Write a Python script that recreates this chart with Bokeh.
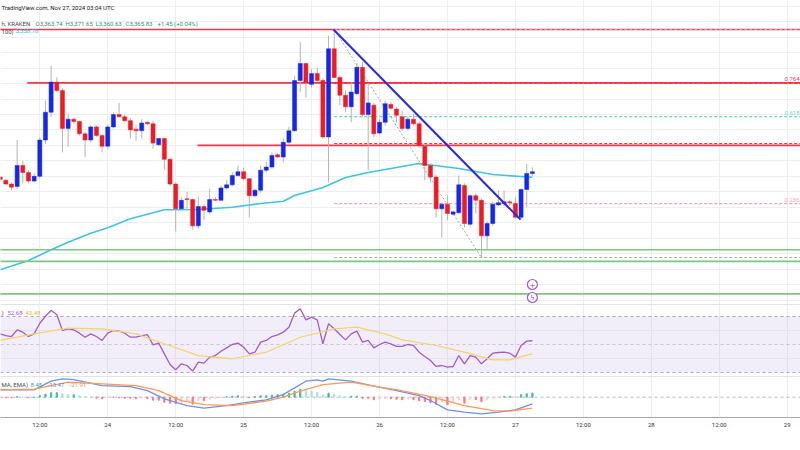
import pandas as pd
from bokeh.plotting import figure
from bokeh.models import (Range1d, ColumnDataSource, FixedTicker, SingleIntervalTicker,
                          Span, BoxAnnotation, Label, Grid)
from bokeh.embed import file_html
from bokeh.resources import INLINE

# ---------------- data (ETH/USD 1h, Kraken) ----------------
first_bar = "2024-11-23 05:00"
day0 = "2024-11-23 00:00"

open_ = [3359, 3355, 3350, 3347, 3374, 3365, 3354, 3360, 3407, 3443,
         3482, 3471, 3422, 3434, 3431, 3415, 3407, 3424, 3413, 3399,
         3424, 3440, 3437, 3432, 3421, 3419, 3430, 3428, 3401, 3409,
         3382, 3350, 3318, 3331, 3330, 3296, 3321, 3314, 3330, 3329,
         3345, 3349, 3361, 3366, 3357, 3335, 3342, 3368, 3372, 3388,
         3385, 3404, 3419, 3484, 3506, 3479, 3493, 3484, 3411, 3525,
         3488, 3465, 3450, 3467, 3501, 3440, 3452, 3416, 3430, 3453,
         3447, 3437, 3422, 3434, 3428, 3399, 3374, 3359, 3318, 3324,
         3311, 3313, 3348, 3298, 3335, 3329, 3283, 3299, 3323, 3325,
         3327, 3325, 3307, 3343, 3363.74]
high = [3361, 3356, 3352, 3407, 3380, 3368, 3364, 3410, 3458, 3503,
        3488, 3474, 3441, 3436, 3432, 3417, 3426, 3426, 3414, 3427,
        3443, 3455, 3440, 3435, 3426, 3434, 3431, 3432, 3410, 3410,
        3384, 3352, 3333, 3340, 3331, 3334, 3324, 3344, 3333, 3348,
        3355, 3365, 3374, 3371, 3358, 3344, 3374, 3379, 3391, 3390,
        3409, 3424, 3490, 3534, 3507, 3499, 3501, 3487, 3542, 3550,
        3490, 3471, 3482, 3506, 3508, 3480, 3455, 3434, 3458, 3456,
        3450, 3445, 3437, 3441, 3431, 3402, 3377, 3362, 3326, 3335,
        3316, 3361, 3351, 3337, 3338, 3331, 3302, 3327, 3342, 3342,
        3329, 3333, 3344, 3376, 3371.65]
low = [3353, 3349, 3342, 3344, 3351, 3351, 3352, 3357, 3402, 3437,
       3469, 3391, 3398, 3428, 3413, 3385, 3404, 3411, 3391, 3396,
       3422, 3436, 3430, 3409, 3406, 3409, 3426, 3396, 3399, 3368,
       3347, 3289, 3316, 3316, 3291, 3292, 3303, 3311, 3328, 3328,
       3343, 3347, 3360, 3355, 3307, 3333, 3339, 3365, 3370, 3384,
       3378, 3402, 3418, 3469, 3462, 3475, 3482, 3409, 3352, 3487,
       3452, 3443, 3430, 3465, 3437, 3368, 3411, 3414, 3426, 3446,
       3430, 3419, 3419, 3426, 3397, 3355, 3352, 3307, 3281, 3303,
       3309, 3311, 3294, 3295, 3312, 3255, 3266, 3296, 3322, 3321,
       3322, 3305, 3305, 3320, 3360.63]
close = [3356, 3350, 3346, 3374, 3365, 3354, 3360, 3407, 3443, 3482,
         3471, 3422, 3434, 3431, 3415, 3407, 3424, 3413, 3399, 3424,
         3440, 3437, 3432, 3420, 3419, 3429, 3428, 3403, 3409, 3382,
         3350, 3318, 3329, 3330, 3296, 3321, 3316, 3330, 3329, 3345,
         3349, 3361, 3366, 3357, 3335, 3342, 3368, 3372, 3387, 3385,
         3404, 3419, 3484, 3506, 3481, 3493, 3484, 3411, 3525, 3488,
         3465, 3450, 3469, 3501, 3440, 3455, 3415, 3430, 3454, 3448,
         3439, 3422, 3434, 3428, 3400, 3374, 3359, 3318, 3324, 3312,
         3314, 3349, 3299, 3335, 3329, 3283, 3299, 3324, 3326, 3327,
         3326, 3307, 3343, 3363.74, 3365.83]

# 100 MA read at sample hours (hours after Nov 23 00:00)
ma100_hours = [5, 10, 14, 17, 21, 24, 28, 34, 40, 46, 51, 55, 57, 62, 66, 70, 75, 79, 86, 92, 97, 99]
ma100 = [3239.1, 3251.1, 3265.0, 3274.8, 3286.4, 3293.4, 3305.1, 3316.7, 3317.1, 3320.1, 3324.9,
         3327.8, 3335.2, 3345.6, 3358.5, 3365.0, 3371.4, 3376.6, 3370.2, 3362.4, 3359.8, 3358.78]

rsi = [57.6, 56.4, 55.7, 60.5, 58.8, 55.7, 57.6, 65.2, 70.2, 74.3,
       71.4, 60.0, 61.2, 60.5, 58.1, 55.2, 57.6, 55.7, 52.9, 58.1,
       60.0, 59.5, 58.1, 55.2, 55.2, 56.4, 57.1, 49.8, 51.0, 43.3,
       35.7, 31.9, 36.2, 35.0, 31.0, 37.4, 36.7, 41.0, 42.1, 45.2,
       47.6, 50.0, 51.0, 48.1, 43.3, 44.5, 51.7, 52.9, 55.7, 56.9,
       58.8, 62.4, 72.4, 75.5, 67.6, 69.5, 67.6, 50.5, 64.8, 61.2,
       57.1, 53.3, 57.6, 59.5, 51.7, 52.9, 47.6, 50.0, 51.7, 50.5,
       48.6, 48.6, 50.0, 49.3, 44.5, 41.4, 38.6, 34.3, 35.0, 33.8,
       34.3, 42.1, 36.2, 42.1, 41.0, 36.2, 39.8, 43.8, 44.3, 44.5,
       43.8, 41.0, 49.3, 52.4, 52.68]
rsi_ma_hours = [5, 11, 17, 23, 29, 34, 40, 46, 52, 58, 64, 68, 73, 76, 82, 87, 92, 95, 99]
rsi_ma = [52.9, 57.6, 61.7, 61.2, 57.6, 50.5, 42.1, 39.8, 44.5, 55.2, 61.2, 62.4, 57.6, 53.3,
          49.3, 44.5, 39.0, 39.0, 43.48]

macd_hours = [5, 11, 14, 16, 18, 23, 28, 31, 34, 38, 41, 45, 48, 52, 55, 57, 59, 61, 62, 63,
              67, 70, 75, 79, 81, 84, 87, 90, 93, 96, 99]
macd = [14.7, 14.7, 32.0, 36.7, 35.3, 23.3, 21.3, 13.3, -3.3, -16.7, -22.0, -16.7, -11.3, -5.3,
        5.3, 18.7, 32.0, 34.7, 32.0, 36.7, 32.0, 24.7, 13.3, 3.3, -6.7, -25.3, -30.0, -33.3,
        -30.0, -25.3, -13.47]
signal_hours = [5, 11, 17, 23, 29, 33, 37, 41, 46, 52, 55, 58, 62, 67, 72, 75, 81, 87, 92, 95, 99]
signal = [14.7, 16.0, 30.0, 26.7, 23.3, 13.3, -6.7, -14.7, -16.7, -8.0, 0.0, 12.0, 25.3, 30.0,
          20.0, 15.3, 1.3, -16.7, -26.7, -28.0, -21.91]
hist = [0, -1, -1, 1, 0, -1, 0, 3, 6, 9,
        9, 7, 5, 5, 3, 1, 0, -2, -3, -1,
        0, -1, -2, -2, -3, -2, -3, -6, -6, -10,
        -12, -13, -10, -9, -14, -7, -7, -4, -3, -1,
        1, 2, 3, 2, -1, 1, 3, 3, 4, 5,
        6, 8, 12, 16, 14, 12, 10, 5, 8, 6,
        3, 1, 2, 2, -2, -2, -5, -4, -3, -3,
        -4, -5, -4, -5, -7, -9, -11, -14, -10, -15,
        -9, -5, -12, -5, -5, -9, -5, -3, -1, 1,
        2, 1, 5, 7, 8.45]

tick_hours = [12, 24, 36, 48, 60, 72, 84, 96, 108, 120, 132, 144]
tick_labels = ["12:00", "24", "12:00", "25", "12:00", "26", "12:00", "27", "12:00", "28", "12:00", "29"]

resistance = [3550, 3481, 3400]
resistance_from_hour = [0, 9.8, 39.85]
support = [3265, 3250, 3208]
fib_high, fib_low = 3550, 3255
fib_from_hour, fib_to_hour = 64, 90
fib_ratios = [0, 0.236, 0.5, 0.618, 0.764, 1]
fib_names = ["0", "0.236", "0.5", "0.618", "0.764", "1"]
trend_hours = [63.87, 96.9]
trend_prices = [3550, 3304]

# ---------------- layout helpers (reference pixel geometry) ----------------
W, H = 800, 450
AXIS_Y = 417        # y of the time axis line
PX_H = 5.662        # px per hour
X12 = 39.3          # x of Nov 23 12:00
def hx(rx):
    return 12 + (rx - X12) / PX_H
PPX = (fib_high - fib_low) / 228.0
def py(ry):
    return fib_low + (257 - ry) * PPX
def rsi_at(ry):
    return 50 + (344 - ry) / 1.4
def macd_at(ry):
    return (396.7 - ry) * 2.0

times = pd.date_range(first_bar, periods=len(close), freq="h")
hrs = ((times - pd.Timestamp(day0)) / pd.Timedelta(hours=1)).to_numpy()

p = figure(width=W, height=H,
           x_range=Range1d(hx(0), hx(W)), y_range=Range1d(py(AXIS_Y), py(0)),
           y_axis_location=None, toolbar_location=None, output_backend="svg",
           min_border_left=0, min_border_right=0, min_border_top=0,
           min_border_bottom=H - AXIS_Y,
           background_fill_color="white", border_fill_color="white", outline_line_color=None)
p.extra_y_ranges = {"rsi": Range1d(rsi_at(AXIS_Y), rsi_at(0)),
                    "macd": Range1d(macd_at(AXIS_Y), macd_at(0)),
                    "ref": Range1d(AXIS_Y, 0)}
p.extra_x_ranges = {"refx": Range1d(0, W)}

# axis
p.xaxis.ticker = FixedTicker(ticks=tick_hours)
p.xaxis.major_label_overrides = dict(zip(tick_hours, tick_labels))
p.xaxis.major_tick_in = 0
p.xaxis.major_tick_out = 0
p.xaxis.minor_tick_line_color = None
p.xaxis.major_tick_line_color = None
p.xaxis.axis_line_color = "#a4a7b0"
p.xaxis.major_label_text_font = "Roboto"
p.xaxis.major_label_text_font_size = "6px"
p.xaxis.major_label_text_color = "#333333"
p.xaxis.major_label_standoff = 3

# grids
p.xgrid.ticker = FixedTicker(ticks=tick_hours)
p.xgrid.grid_line_color = "#eceef2"
p.center = [r for r in p.center if not (isinstance(r, Grid) and r.dimension == 1)]
p.add_layout(Grid(dimension=1, ticker=SingleIntervalTicker(interval=20), bounds=(3200, 3580),
                  grid_line_color="#eceef2"))

# pane separators
for loc in (304, 376):
    p.add_layout(Span(location=loc, dimension="width", y_range_name="ref",
                      line_color="#e0e3eb", line_width=1, level="underlay"))

# RSI pane background and levels
p.add_layout(BoxAnnotation(bottom=30, top=70, y_range_name="rsi", fill_color="#7e57c2",
                           fill_alpha=0.1, line_color=None, level="underlay"))
for lv in (60, 40):
    p.add_layout(Span(location=lv, dimension="width", y_range_name="rsi",
                      line_color="#e6e0f0", line_width=1, level="underlay"))
for lv, col in ((70, "#a9abb3"), (50, "#c4c6cc"), (30, "#a9abb3")):
    p.add_layout(Span(location=lv, dimension="width", y_range_name="rsi",
                      line_color=col, line_width=1, line_dash="3 3", level="underlay"))
p.add_layout(Span(location=0, dimension="width", y_range_name="macd",
                  line_color="#b2b5be", line_width=1, line_dash="3 3", level="underlay"))

x_end = p.x_range.end

# MA(100)
p.line(ma100_hours, ma100, line_color="#3ec3e6", line_width=1.6)

# support / resistance lines
p.segment(x0=resistance_from_hour, y0=resistance, x1=[x_end] * len(resistance), y1=resistance,
          line_color="#f23645", line_width=1.7)
p.segment(x0=[0] * len(support), y0=support, x1=[x_end] * len(support), y1=support,
          line_color="#7cc67e", line_width=1.7)

# fib retracement
fib_prices = [fib_low + r * (fib_high - fib_low) for r in fib_ratios]
fib_colors = ["#a9abb3", "#f5a3a6", "#f23645", "#6fd6b7", "#f23645", "#a9abb3"]
p.segment(x0=[fib_from_hour] * len(fib_prices), y0=fib_prices, x1=[x_end] * len(fib_prices),
          y1=fib_prices, line_color=fib_colors, line_width=1.2, line_dash="3 2")
p.line([fib_from_hour, fib_to_hour], [fib_high, fib_low], line_color="#a0a0a0",
       line_width=1, line_dash="2 2")
for name, fp, col in zip(fib_names, fib_prices, fib_colors):
    if name in ("0.236", "0.618", "0.764"):
        p.add_layout(Label(x=W - 1, y=fp, x_range_name="refx", text=name, text_font="Roboto",
                           text_font_size="6px", text_color=col, text_baseline="bottom",
                           text_align="right", y_offset=2))

# candles
up = [c >= o for o, c in zip(open_, close)]
src = ColumnDataSource(dict(
    x=hrs, o=open_, h=high, l=low, c=close,
    top=[max(o, c) for o, c in zip(open_, close)],
    bot=[min(o, c) for o, c in zip(open_, close)],
    color=["#1428e6" if u else "#ec1c24" for u in up]))
p.segment(x0="x", y0="h", x1="x", y1="l", line_color="#b4b4b4", line_width=1, source=src)
p.vbar(x="x", width=0.72, top="top", bottom="bot", fill_color="color", line_color="color",
       line_width=0.5, source=src)

# trend line
p.line(trend_hours, trend_prices, line_color="#2b2bd9", line_width=2)

# RSI
p.line(hrs, rsi, y_range_name="rsi", line_color="#a05ccc", line_width=1.3)
p.line(rsi_ma_hours, rsi_ma, y_range_name="rsi", line_color="#f5d36b", line_width=1.2)

# MACD
hist_colors = []
for i, v in enumerate(hist):
    prev = hist[i - 1] if i else 0
    if v >= 0:
        hist_colors.append("#4fb9a9" if v >= prev else "#b2dfdb")
    else:
        hist_colors.append("#f77b7b" if v <= prev else "#ffcdd2")
p.vbar(x=hrs, width=0.22, top=hist, bottom=0, y_range_name="macd",
       fill_color=hist_colors, line_color=hist_colors)
p.line(macd_hours, macd, y_range_name="macd", line_color="#6f8ff0", line_width=1.3)
p.line(signal_hours, signal, y_range_name="macd", line_color="#ff9a55", line_width=1.3)

# event markers
p.scatter(x=[hrs[-1], hrs[-1]], y=[284, 297], y_range_name="ref", size=10, marker="circle",
          fill_color="white", line_color="#a855d6", line_width=1.2)
for yy, sym in ((284, "+"), (297, "ϟ")):
    p.add_layout(Label(x=hrs[-1], y=yy, y_range_name="ref", text=sym, text_align="center",
                       text_baseline="middle", text_font="DejaVu Sans", text_font_size="7px",
                       text_color="#8a3fd0"))

# header / legend texts
def add_text(txt, rx, ry, color, size="6px"):
    p.add_layout(Label(x=rx, y=ry, x_range_name="refx", y_range_name="ref", text=txt,
                       text_font="Roboto", text_font_size=size, text_color=color,
                       text_baseline="middle", text_align="left"))

add_text("TradingView.com, Nov 27, 2024 03:04 UTC", 1, 7, "#131722")
add_text("h, KRAKEN", 1, 22.7, "#434651")
add_text("O3,363.74", 35, 22.7, "#2f8f72")
add_text("H3,371.65", 65, 22.7, "#2f8f72")
add_text("L3,360.63", 95, 22.7, "#2f8f72")
add_text("C3,365.83", 125, 22.7, "#2f8f72")
add_text("+1.45 (+0.04%)", 157, 22.7, "#2f8f72")
add_text("100)", 1, 30.7, "#434651")
add_text("3,358.78", 15, 30.7, "#22b8d8")
add_text(")", 1, 312, "#434651")
add_text("52.68", 7, 312, "#a05ccc")
add_text("43.48", 25, 312, "#e3b53c")
add_text("MA, EMA)", 1, 384, "#434651")
add_text("8.45", 30, 384, "#26a69a")
add_text("-13.47", 47, 384, "#5b7ff0")
add_text("-21.91", 69, 384, "#ff8a3d")

open("out.html", "w").write(file_html(p, INLINE))
